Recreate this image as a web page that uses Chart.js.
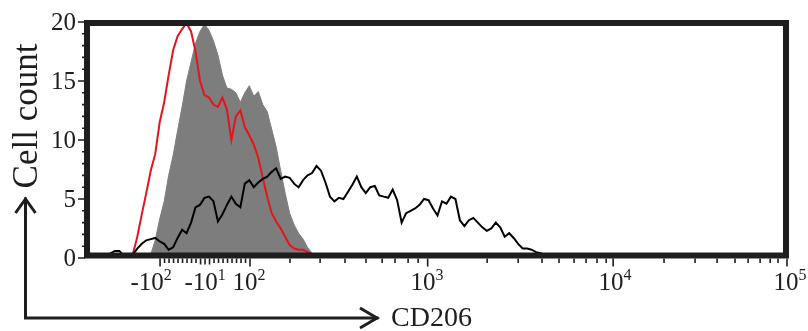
<!DOCTYPE html>
<html>
<head>
<meta charset="utf-8">
<script src="https://cdn.jsdelivr.net/npm/chart.js@4"></script>
<style>
  html, body { margin: 0; padding: 0; background: #fff; }
  #wrap { width: 808px; height: 331px; }
</style>
</head>
<body>
<div id="wrap"><canvas id="hist" width="808" height="331"></canvas></div>
<script>
// x axis is the biexponential display scale, in "decade" units (10^2 -> ~2, 10^5 -> 5)
const binStart = 1.2;
const binStep = 0.025;

const redCounts = [
    0, 0, 0, 0, 0, 0, 0.3, 1.8, 3.7, 5.5,
    7.4, 8.8, 11.5, 13.2, 15.5, 17.6, 18.8, 19.4, 19.9, 19.2,
    17.5, 15.0, 13.8, 13.6, 13.0, 12.8, 13.6, 12.6, 10.0, 12.0,
    12.5, 11.1, 10.4, 9.6, 8.5, 6.8, 5.2, 3.8, 3.1, 2.5,
    1.8, 1.1, 0.8, 0.7, 0.7, 0.5, 0.3, 0.1, 0.1, 0.1,
    0.3, 0.1, 0.1, 0, 0, 0, 0, 0, 0, 0,
    0, 0, 0, 0, 0, 0, 0, 0, 0, 0,
    0, 0, 0, 0, 0, 0, 0, 0, 0, 0,
    0, 0, 0, 0, 0, 0, 0, 0, 0, 0,
    0, 0, 0, 0, 0, 0, 0, 0, 0, 0,
    0
];

const grayCounts = [
    0, 0, 0, 0, 0, 0, 0, 0, 0, 0,
    0.3, 1.5, 3.3, 4.8, 7.0, 8.7, 10.8, 12.8, 15.0, 16.6,
    18.2, 19.2, 19.8, 19.3, 18.4, 17.2, 15.5, 14.4, 14.3, 14.0,
    13.2, 14.0, 14.6, 13.7, 14.1, 13.0, 12.4, 10.9, 9.4, 7.4,
    5.5, 3.8, 2.8, 2.1, 1.6, 0.9, 0.4, 0.1, 0, 0,
    0, 0, 0, 0, 0, 0, 0, 0, 0, 0,
    0, 0, 0, 0, 0, 0, 0, 0, 0, 0,
    0, 0, 0, 0, 0, 0, 0, 0, 0, 0,
    0, 0, 0, 0, 0, 0, 0, 0, 0, 0,
    0, 0, 0, 0, 0, 0, 0, 0, 0, 0,
    0
];

const blackCounts = [
    0.1, 0.4, 0.6, 0.6, 0.2, 0.1, 0.3, 0.8, 1.2, 1.5,
    1.6, 1.7, 1.4, 1.2, 0.7, 0.9, 1.7, 2.4, 2.1, 3.0,
    4.3, 4.5, 5.1, 5.2, 4.8, 3.1, 3.7, 4.5, 5.2, 4.6,
    4.3, 6.3, 6.6, 6.0, 6.4, 6.7, 6.9, 7.3, 7.6, 6.7,
    6.9, 6.8, 6.3, 6.0, 6.6, 7.0, 7.2, 7.8, 7.4, 6.4,
    5.2, 4.8, 5.1, 5.0, 5.6, 6.2, 6.9, 6.0, 5.5, 6.0,
    6.1, 5.3, 5.2, 5.1, 5.8, 4.9, 3.0, 3.8, 4.0, 4.2,
    4.5, 5.0, 4.9, 4.2, 3.6, 4.8, 4.6, 5.2, 5.0, 3.2,
    2.7, 3.2, 3.4, 3.0, 2.6, 2.3, 2.5, 3.0, 2.6, 1.8,
    2.1, 1.7, 1.2, 0.8, 0.8, 0.7, 0.5, 0.4, 0.2, 0.1,
    0
];

// axis ticks, in display units
const xMin = 1.1;
const xMax = 5.0;
const xMajorTicks = [1.502, 2.004, 2.995, 4.03, 5.0];
const xMidTicks = [1.728, 1.753, 1.778];
const xMinorTicks = [
    2.227, 2.395, 2.534, 2.651, 2.741, 2.813, 2.886, 2.942,
    3.327, 3.500, 3.633, 3.728, 3.812, 3.879, 3.940, 3.991,
    4.314, 4.487, 4.610, 4.710, 4.783, 4.850, 4.906, 4.950
];
const xLabelPos = [1.452, 1.753, 1.998, 2.992, 4.041, 5.017];
const xLabelBase = ["-10", "-10", "10", "10", "10", "10"];
const xLabelExp = ["2", "1", "2", "3", "4", "5"];
const yTicks = [0, 5, 10, 15, 20];

const SERIF = "'Liberation Serif', 'Times New Roman', serif";
const INK = "#1e1e1e";

const toPoints = (counts) => counts.map((y, i) => ({ x: binStart + i * binStep, y: y }));

// linear part between -10^2 and 10^2: small ticks every 10
for (let k = -10; k <= 10; k++) {
    const v = 1.753 + k * 0.0251;
    if (k !== -10 && k !== 10 && k !== -1 && k !== 0 && k !== 1) xMinorTicks.push(v);
}

const axesPlugin = {
    id: "flowAxes",
    afterDatasetsDraw(chart) {
        const ctx = chart.ctx;
        const a = chart.chartArea;
        const xs = chart.scales.x;
        const ys = chart.scales.y;
        ctx.save();

        // thick frame
        ctx.strokeStyle = INK;
        ctx.lineWidth = 6;
        ctx.strokeRect(a.left - 1, a.top + 1, a.right - a.left, a.bottom - a.top - 3.5);

        const yb = a.bottom + 0.5;
        ctx.lineWidth = 1.6;
        ctx.beginPath();
        xMajorTicks.forEach(v => { const p = xs.getPixelForValue(v); ctx.moveTo(p, yb); ctx.lineTo(p, yb + 8); });
        xMidTicks.forEach(v => { const p = xs.getPixelForValue(v); ctx.moveTo(p, yb); ctx.lineTo(p, yb + 6); });
        xMinorTicks.forEach(v => { const p = xs.getPixelForValue(v); ctx.moveTo(p, yb); ctx.lineTo(p, yb + 4.5); });
        ctx.stroke();

        // y ticks: major every 5, minor every 1
        const xl = a.left - 3;
        ctx.beginPath();
        for (let v = 0; v <= 20; v++) {
            const p = ys.getPixelForValue(v);
            const len = v % 5 === 0 ? 7 : 3;
            ctx.moveTo(xl, p);
            ctx.lineTo(xl - len, p);
        }
        ctx.stroke();

        ctx.fillStyle = INK;
        ctx.font = "25px " + SERIF;
        ctx.textAlign = "right";
        ctx.textBaseline = "middle";
        yTicks.forEach(v => ctx.fillText(String(v), a.left - 12, ys.getPixelForValue(v) + 1));

        // x labels with superscript
        ctx.textAlign = "left";
        ctx.textBaseline = "alphabetic";
        xLabelPos.forEach((v, i) => {
            ctx.font = "25px " + SERIF;
            const wb = ctx.measureText(xLabelBase[i]).width;
            ctx.font = "16px " + SERIF;
            const we = ctx.measureText(xLabelExp[i]).width;
            const x0 = xs.getPixelForValue(v) - (wb + we) / 2;
            ctx.font = "25px " + SERIF;
            ctx.fillText(xLabelBase[i], x0, 290);
            ctx.font = "16px " + SERIF;
            ctx.fillText(xLabelExp[i], x0 + wb, 280);
        });

        // axis titles with the L shaped arrows
        ctx.font = "28px " + SERIF;
        ctx.fillText("CD206", 391, 326);
        ctx.save();
        ctx.translate(37, 116);
        ctx.rotate(-Math.PI / 2);
        ctx.textAlign = "center";
        ctx.font = "35px " + SERIF;
        ctx.fillText("Cell count", 0, 0);
        ctx.restore();

        ctx.lineWidth = 3;
        ctx.lineCap = "square";
        ctx.beginPath();
        ctx.moveTo(25.5, 199);
        ctx.lineTo(25.5, 318);
        ctx.lineTo(377, 318);
        ctx.stroke();
        ctx.lineCap = "butt";
        ctx.lineJoin = "miter";
        ctx.beginPath();
        ctx.moveTo(15.5, 213);
        ctx.lineTo(25.5, 199);
        ctx.lineTo(35.5, 213);
        ctx.moveTo(360, 308);
        ctx.lineTo(377, 318);
        ctx.lineTo(360, 328);
        ctx.stroke();

        ctx.restore();
    }
};

new Chart(document.getElementById("hist").getContext("2d"), {
    type: "line",
    data: {
        datasets: [
            {
                label: "CD206",
                data: toPoints(blackCounts),
                borderColor: "#000",
                borderWidth: 2,
                pointRadius: 0,
                fill: false,
                order: 0
            },
            {
                label: "Isotype",
                data: toPoints(redCounts),
                borderColor: "#e3151c",
                borderWidth: 2,
                pointRadius: 0,
                fill: false,
                order: 1
            },
            {
                label: "Control",
                data: toPoints(grayCounts),
                borderColor: "#7d7d7d",
                backgroundColor: "#7d7d7d",
                borderWidth: 1,
                pointRadius: 0,
                fill: "origin",
                order: 2
            }
        ]
    },
    options: {
        responsive: false,
        animation: false,
        devicePixelRatio: 1,
        layout: { padding: { left: 88, right: 21, top: 22, bottom: 73 } },
        elements: { line: { tension: 0 } },
        scales: {
            x: { type: "linear", min: xMin, max: xMax, display: false },
            y: { type: "linear", min: 0, max: 20, display: false }
        },
        plugins: {
            legend: { display: false },
            tooltip: { enabled: false }
        }
    },
    plugins: [axesPlugin]
});
</script>
</body>
</html>
